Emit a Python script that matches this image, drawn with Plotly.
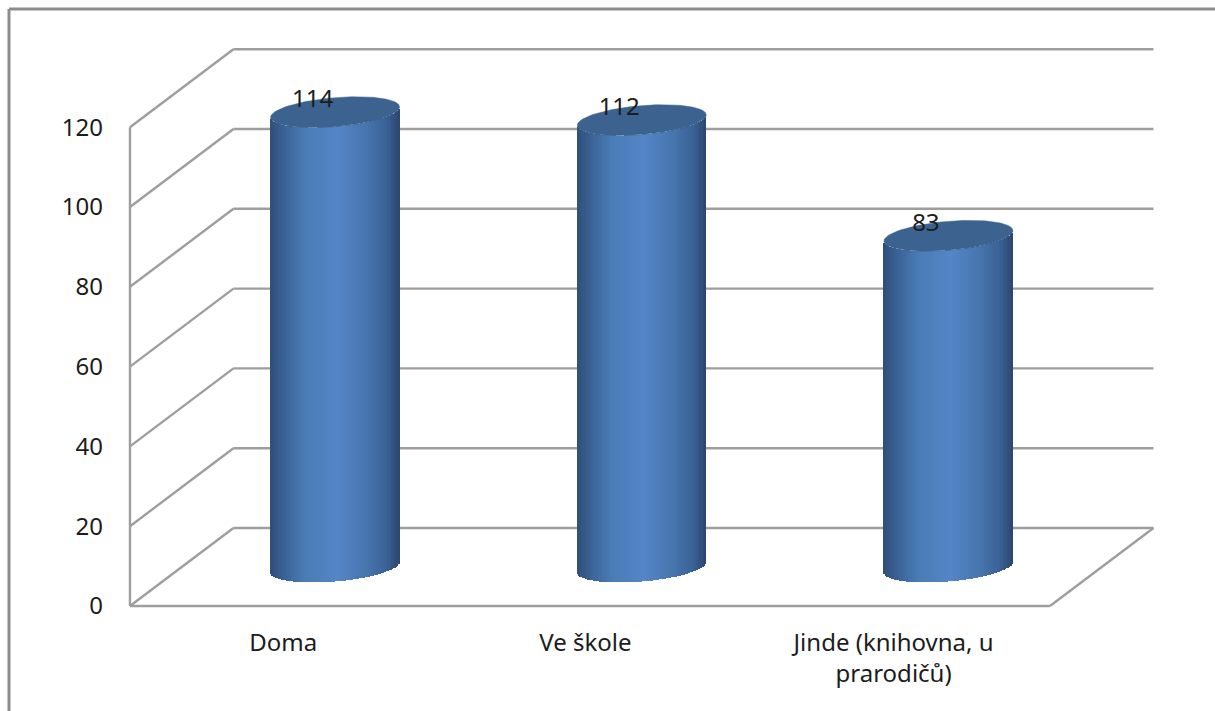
import numpy as np
import plotly.graph_objects as go

categories = ["Doma", "Ve škole", "Jinde (knihovna, u<br>prarodičů)"]
values = [114, 112, 83]
y_ticks = [0, 20, 40, 60, 80, 100, 120]
label_positions = [0, 0.985, 1.99]

W, H = 1215, 711
# plot-area rectangle in pixels
L, R, T, B = 120, 1165, 40, 614
# pixel scale of the axes
X0_PX, X_UNIT = 283.3, 306.67      # category 0, px per category
Y0_PX, Y_UNIT = 606.0, 3.99        # value 0, px per value unit
x_range = [(L - X0_PX) / X_UNIT, (R - X0_PX) / X_UNIT]
y_range = [(Y0_PX - B) / Y_UNIT, (Y0_PX - T) / Y_UNIT]

# oblique depth of the 3-D box, in axis units
DX, DY = 103.5 / X_UNIT, 78.0 / Y_UNIT
XL, XR = -0.5, 2.5
GRID = "#9e9e9e"

# cylinder geometry in axis units
A = 64.5 / X_UNIT   # half width
E = 14.5 / Y_UNIT   # ellipse half height
S = 5.2 / Y_UNIT    # tilt of the ellipse
N = 96

stops_u = [-1.0, -0.78, -0.45, 0.05, 0.5, 0.8, 1.0]
stops_c = [(47, 78, 120), (58, 98, 150), (74, 124, 182), (84, 133, 199),
           (70, 117, 173), (58, 98, 150), (44, 71, 110)]

def shade(u):
    return "rgb(%d,%d,%d)" % tuple(
        int(round(np.interp(u, stops_u, [c[i] for c in stops_c]))) for i in range(3))

fig = go.Figure()

for i, v in enumerate(values):
    cx = i + DX / 2
    base_c = DY / 2
    edges = np.linspace(-1, 1, N + 1)
    mids = (edges[:-1] + edges[1:]) / 2
    xs = cx + A * mids
    tilt = S * mids
    bases = base_c + tilt - E * np.sqrt(1 - mids ** 2)
    tops = base_c + v + tilt - E * np.sqrt(1 - mids ** 2)
    fig.add_trace(go.Bar(
        x=xs, y=tops - bases, base=bases, width=2 * A / N * 1.15,
        marker=dict(color=[shade(u) for u in mids], line=dict(width=0)),
        showlegend=False, hoverinfo="skip"))
    t = np.linspace(0, 2 * np.pi, 121)
    fig.add_trace(go.Scatter(
        x=cx + A * np.cos(t),
        y=base_c + v + S * np.cos(t) + E * np.sin(t),
        mode="lines", fill="toself", fillcolor="#3c628f",
        line=dict(color="#3c628f", width=0.5),
        showlegend=False, hoverinfo="skip"))

fig.add_trace(go.Scatter(
    x=[i + DX / 2 - 22.5 / X_UNIT for i in range(len(values))],
    y=[v + DY / 2 + 11 / Y_UNIT for v in values],
    mode="text", text=[str(v) for v in values],
    textfont=dict(family="Noto Sans", size=24, color="#1c1c1c"),
    textposition="middle center", showlegend=False, hoverinfo="skip", cliponaxis=False))

shapes = []
def seg(x0, y0, x1, y1):
    shapes.append(dict(type="line", xref="x", yref="y", x0=x0, y0=y0, x1=x1, y1=y1,
                       layer="below", line=dict(color=GRID, width=2.4)))

for tk in y_ticks:
    seg(XL, tk, XL + DX, tk + DY)
    seg(XL + DX, tk + DY, XR + DX, tk + DY)
seg(XL, 0, XL, y_ticks[-1])
seg(XL, 0, XR, 0)
seg(XR, 0, XR + DX, DY)

# outer chart frame, open at the right and bottom where the picture is cropped
fx = (9 - L) / (R - L)
fy = (B - 9) / (B - T)
for x0, y0, x1, y1 in [(fx, fy, 1.2, fy), (fx, fy, fx, -0.3)]:
    shapes.append(dict(type="line", xref="paper", yref="paper", x0=x0, y0=y0, x1=x1, y1=y1,
                       layer="below", line=dict(color="#8c8c8c", width=3)))

fig.update_layout(
    width=W, height=H, autosize=False, showlegend=False, barmode="overlay", bargap=0,
    margin=dict(l=L, r=W - R, t=T, b=H - B, pad=0),
    paper_bgcolor="white", plot_bgcolor="rgba(0,0,0,0)",
    font=dict(family="Noto Sans", size=24, color="#1c1c1c"),
    shapes=shapes,
    xaxis=dict(range=x_range, tickmode="array", tickvals=label_positions,
               ticktext=categories, showgrid=False, zeroline=False, showline=False,
               ticks="", ticklabelstandoff=12, tickangle=0),
    yaxis=dict(range=y_range, tickmode="array", tickvals=y_ticks, showgrid=False,
               zeroline=False, showline=False, ticks="", ticklabelstandoff=16),
)
fig.write_html("out.html", config={"displayModeBar": False},
               post_script="document.body.style.margin='0';document.documentElement.style.overflow='hidden';")
